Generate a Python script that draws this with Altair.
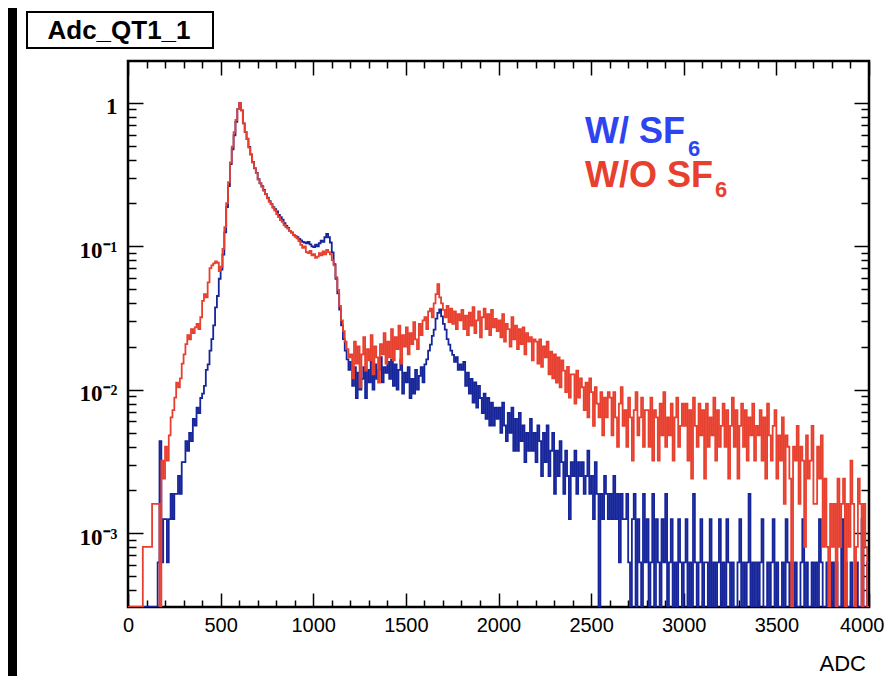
import altair as alt
import pandas as pd

# ---------------- data ----------------
BIN_WIDTH = 10
ADC_RANGE = [0, 4000]
Y_RANGE = [3.05e-4, 1.96]
series_names = ["W/ SF6", "W/O SF6"]
line_colors = ["#16269a", "#e8402f"]
text_colors = ["#2d44f0", "#e8402f"]
title_text = "Adc_QT1_1"
x_title = "ADC"

x_label_values = [0, 500, 1000, 1500, 2000, 2500, 3000, 3500, 4000]
x_tick_values = list(range(0, 4001, 100))
y_label_values = [0.001, 0.01, 0.1, 1]
y_label_texts = ["10⁻³", "10⁻²", "10⁻¹", "1"]

# counts per 10-ADC bin, W/ SF6 (blue)
blue_counts = [
    0, 0, 0, 0, 0, 0, 0, 0, 0, 0, 0, 0, 0, 0, 0, 0, 1, 7, 1, 2,
    2, 1, 2, 3, 2, 3, 3, 4, 3, 5, 5, 7, 6, 8, 7, 10, 9, 12, 11, 14,
    15, 17, 22, 24, 30, 36, 45, 60, 72, 95, 110, 140, 200, 300, 420, 600, 760, 950, 1180, 1450,
    1600, 1420, 1150, 1000, 900, 790, 700, 620, 560, 520, 470, 440, 420, 395, 370, 350, 330, 315, 300, 290,
    280, 265, 255, 245, 232, 222, 215, 205, 200, 192, 188, 185, 180, 176, 172, 170, 168, 172, 165, 160,
    158, 164, 160, 168, 175, 172, 185, 195, 185, 170, 145, 120, 95, 75, 58, 45, 36, 30, 26, 22,
    25, 17, 23, 14, 21, 16, 19, 23, 14, 22, 18, 25, 16, 24, 19, 22, 27, 18, 23, 21,
    25, 19, 26, 17, 24, 16, 22, 26, 15, 21, 18, 23, 14, 19, 15, 22, 16, 20, 23, 18,
    24, 26, 30, 33, 38, 42, 50, 55, 58, 52, 46, 42, 36, 33, 30, 28, 25, 27, 22, 24,
    22, 25, 17, 21, 15, 19, 13, 18, 12, 17, 14, 11, 15, 10, 14, 9, 13, 9, 12, 10,
    12, 8, 13, 9, 7, 11, 8, 12, 6, 10, 6, 11, 7, 9, 5, 8, 6, 10, 6, 8,
    5, 9, 7, 4, 8, 5, 9, 4, 6, 8, 3, 6, 4, 7, 5, 3, 6, 4, 2, 5,
    4, 6, 3, 5, 4, 5, 3, 4, 6, 3, 4, 2, 5, 3, 0, 3, 2, 4, 3, 2,
    3, 2, 4, 2, 3, 1, 3, 2, 2, 3, 1, 0, 2, 3, 0, 2, 1, 0, 3, 1,
    2, 0, 1, 3, 0, 2, 1, 0, 2, 1, 3, 0, 1, 2, 0, 1, 0, 2, 1, 0,
    1, 2, 0, 1, 0, 3, 1, 0, 1, 2, 0, 1, 1, 0, 2, 0, 1, 0, 1, 2,
    0, 1, 0, 2, 1, 0, 1, 0, 0, 1, 2, 0, 1, 0, 1, 3, 0, 1, 0, 1,
    0, 1, 2, 0, 0, 1, 0, 1, 2, 0, 1, 0, 0, 1, 0, 2, 1, 0, 1, 0,
    1, 0, 0, 1, 2, 0, 1, 0, 0, 1, 0, 1, 0, 2, 1, 0, 0, 1, 0, 0,
    1, 0, 1, 0, 0, 2, 0, 1, 0, 0, 1, 0, 0, 1, 0, 0, 2, 0, 0, 1,
]

# counts per 10-ADC bin, W/O SF6 (red)
red_counts = [
    0, 0, 0, 0, 0, 0, 0, 0, 1, 1, 1, 1, 1, 2, 2, 2, 2, 0, 4, 3,
    5, 4, 6, 8, 9, 11, 14, 13, 15, 19, 22, 26, 30, 28, 33, 31, 34, 36, 33, 40,
    52, 58, 55, 70, 88, 92, 95, 98, 96, 84, 90, 120, 170, 250, 350, 480, 620, 780, 950, 1130,
    1250, 1110, 900, 785, 700, 610, 545, 480, 440, 405, 365, 345, 325, 305, 288, 270, 255, 245, 232, 222,
    210, 200, 190, 185, 176, 170, 166, 160, 155, 150, 146, 142, 136, 128, 122, 125, 114, 112, 116, 108,
    110, 104, 106, 112, 108, 115, 110, 118, 114, 110, 100, 92, 76, 62, 48, 38, 32, 27, 24, 21,
    22, 15, 27, 19, 25, 13, 22, 29, 17, 24, 20, 30, 16, 25, 21, 14, 26, 22, 31, 19,
    27, 21, 33, 20, 29, 24, 35, 19, 30, 25, 34, 22, 31, 26, 37, 28, 24, 36, 30, 38,
    40, 33, 44, 46, 40, 50, 58, 68, 55, 50, 45, 40, 48, 37, 46, 36, 44, 33, 42, 38,
    45, 33, 41, 30, 43, 35, 47, 31, 38, 44, 29, 40, 46, 33, 42, 30, 45, 34, 39, 32,
    38, 29, 42, 27, 36, 33, 25, 40, 28, 35, 24, 33, 26, 34, 22, 31, 27, 29, 20, 28,
    27, 19, 28, 18, 25, 21, 27, 16, 23, 15, 22, 14, 21, 13, 20, 17, 12, 18, 11, 16,
    16, 10, 17, 11, 15, 13, 9, 14, 8, 15, 12, 7, 13, 10, 8, 12, 6, 11, 8, 12,
    11, 6, 12, 8, 5, 10, 13, 7, 9, 5, 11, 8, 4, 9, 12, 6, 8, 11, 5, 9,
    9, 5, 11, 4, 9, 8, 4, 10, 6, 12, 5, 8, 6, 10, 4, 8, 11, 5, 7, 10,
    7, 10, 4, 9, 3, 11, 7, 5, 10, 6, 9, 3, 10, 5, 8, 6, 11, 4, 9, 5,
    7, 10, 5, 9, 3, 7, 11, 5, 9, 3, 7, 10, 5, 9, 4, 8, 6, 10, 4, 7,
    6, 9, 4, 8, 3, 10, 6, 4, 7, 9, 3, 6, 4, 8, 2, 6, 5, 3, 0, 5,
    4, 7, 2, 5, 4, 1, 6, 3, 4, 7, 2, 2, 5, 3, 6, 1, 3, 1, 0, 2,
    1, 2, 0, 3, 1, 2, 3, 0, 2, 1, 4, 2, 0, 1, 3, 2, 0, 2, 1, 0,
]

# ---------------- table ----------------
rows = []
for name, counts in zip(series_names, [blue_counts, red_counts]):
    peak = max(counts)
    for i, c in enumerate(counts):
        rows.append({"series": name, "adc": ADC_RANGE[0] + i * BIN_WIDTH, "val": c / peak})
    rows.append({"series": name, "adc": ADC_RANGE[1], "val": counts[-1] / peak})
df = pd.DataFrame(rows)

y_tick_values = []
for e in range(-4, 1):
    for k in range(1, 10):
        v = round(k * 10 ** e, 12)
        if Y_RANGE[0] <= v <= Y_RANGE[1]:
            y_tick_values.append(v)

W, H = 741, 546
PAD = {"left": 120, "top": 53, "right": 16, "bottom": 69}

xscale = alt.Scale(domain=ADC_RANGE, nice=False, zero=False)
yscale = alt.Scale(type="log", domain=Y_RANGE, nice=False)

label_expr = " : ".join(
    f"abs(datum.value - {v}) < {v} * 0.01 ? '{t}'" for v, t in zip(y_label_values, y_label_texts)
) + " : ''"

x_size = {"condition": {"test": "datum.value % 500 === 0", "value": 14}, "value": 7}
y_major = "abs(log(datum.value)/LN10 - round(log(datum.value)/LN10)) < 0.001"
y_size = {"condition": {"test": y_major, "value": 15}, "value": 8}

last_x = f"datum.value >= {ADC_RANGE[1]}"
x_label_align = {"condition": {"test": last_x, "value": "right"}, "value": "center"}
x_label_offset = {"condition": {"test": last_x, "value": 15}, "value": 0}

tick_common = dict(labels=False, domain=False, grid=False, title=None,
                   tickColor="black", tickWidth=1.5)

# main histogram lines with label axes
lines = alt.Chart(df).transform_calculate(
    plot_val=f"max(datum.val, {Y_RANGE[0]})"
).mark_line(interpolate="step-after", strokeWidth=1.8, clip=True).encode(
    x=alt.X("adc:Q", scale=xscale, axis=alt.Axis(
        orient="bottom", values=x_label_values, ticks=False, tickSize=0, domain=False,
        grid=False, labelFont="Liberation Sans", labelFontSize=20, labelColor="black",
        labelPadding=8, labelFlush=False, labelOverlap=False, title=None, format="d",
        labelAlign=x_label_align, labelOffset=x_label_offset)),
    y=alt.Y("plot_val:Q", scale=yscale, axis=alt.Axis(
        orient="left", values=y_label_values, ticks=False, tickSize=0, domain=False,
        grid=False, labelFont="Liberation Serif", labelFontSize=23, labelFontWeight="bold",
        labelColor="black", labelPadding=11, labelOffset=4, labelExpr=label_expr, title=None,
        labelOverlap=False)),
    color=alt.Color("series:N", scale=alt.Scale(domain=series_names, range=line_colors),
                    legend=None),
)

# inward ticks: bottom & left
ticks_a = alt.Chart(df).mark_line(strokeOpacity=0).encode(
    x=alt.X("adc:Q", scale=xscale, axis=alt.Axis(orient="top", offset=-H, values=x_tick_values,
                                                  tickSize=x_size, **tick_common)),
    y=alt.Y("val:Q", scale=yscale, axis=alt.Axis(orient="right", offset=-W, values=y_tick_values,
                                                  tickSize=y_size, **tick_common)),
)
# inward ticks: top & right
ticks_b = alt.Chart(df).mark_line(strokeOpacity=0).encode(
    x=alt.X("adc:Q", scale=xscale, axis=alt.Axis(orient="bottom", offset=-H, values=x_tick_values,
                                                  tickSize=x_size, **tick_common)),
    y=alt.Y("val:Q", scale=yscale, axis=alt.Axis(orient="left", offset=-W, values=y_tick_values,
                                                  tickSize=y_size, **tick_common)),
)

one = alt.Data(values=[{}])


def text_mark(txt, x, y, size, color, weight="bold", align="left", font="Liberation Sans"):
    return alt.Chart(one).mark_text(
        text=txt, align=align, baseline="alphabetic", fontSize=size, font=font,
        fontWeight=weight, color=color
    ).encode(x=alt.value(x), y=alt.value(y))


strip = alt.Chart(one).mark_rect(color="black").encode(
    x=alt.value(-120), x2=alt.value(-111), y=alt.value(-53), y2=alt.value(H + PAD["bottom"]))
title_box = alt.Chart(one).mark_rect(fill="white", stroke="black", strokeWidth=2).encode(
    x=alt.value(-101), x2=alt.value(85), y=alt.value(-49), y2=alt.value(-13))
title = text_mark(title_text, -9, -22, 26, "black", align="center")

leg1 = text_mark("W/ SF", 457, 82, 36, text_colors[0])
leg1s = text_mark("6", 560, 95, 22, text_colors[0])
leg2 = text_mark("W/O SF", 457, 126, 36, text_colors[1])
leg2s = text_mark("6", 587, 136, 22, text_colors[1])
xt = text_mark(x_title, 738, 610, 22, "black", weight="normal", align="right")

chart = alt.layer(
    strip, title_box, title, lines, ticks_a, ticks_b, leg1, leg1s, leg2, leg2s, xt
).resolve_axis(x="independent", y="independent").properties(
    width=W, height=H,
    autosize=alt.AutoSizeParams(type="none"),
    padding=PAD,
    background="white",
).configure_view(stroke="black", strokeWidth=2.5)

chart.save("out.html", embed_options={"renderer": "svg", "actions": False})
